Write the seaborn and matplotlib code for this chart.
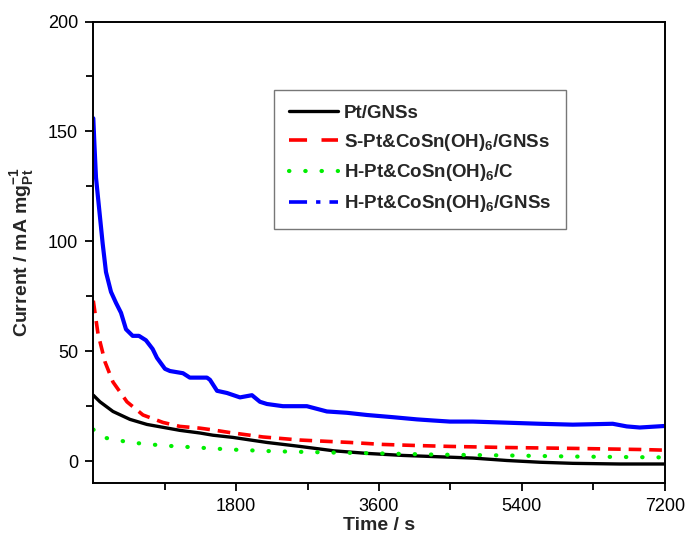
import numpy as np
import matplotlib.pyplot as plt
import seaborn as sns
import pandas as pd
from matplotlib.lines import Line2D

# values (time in s, current in mA/mg Pt)
pt_t = [0, 84, 248, 462, 676, 1092, 1344, 1507, 1759, 2188, 2603, 3031, 3459,
        3900, 4492, 4782, 5210, 5626, 6041, 6633, 7200]
pt_i = [30, 27, 22.6, 19, 16.7, 14, 12.8, 11.8, 10.8, 8.5, 6.7, 4.7, 3.5,
        2.6, 1.8, 1.4, 0.3, -0.5, -1, -1.3, -1.3]

s_t = [0, 59, 149, 248, 424, 626, 878, 1092, 1344, 1507, 1722, 2137, 2603,
       2943, 3233, 3648, 4077, 4492, 5210, 6041, 6885, 7200]
s_i = [73, 58, 45, 36, 27, 21, 17.6, 15.8, 15, 14.2, 13, 11, 9.6,
       9, 8.5, 7.6, 7.1, 6.7, 6.2, 5.8, 5.3, 5]

hc_t = [0, 122, 462, 878, 1306, 1722, 2188, 2389, 3020, 3648, 4278, 5210, 6041, 7200]
hc_i = [14.4, 10.8, 8.5, 7.1, 6.2, 5.3, 4.6, 4.4, 3.9, 3.5, 3, 2.6, 2.1, 1.7]

hg_t = [0, 13, 34, 76, 118, 160, 223, 286, 349, 412, 496, 575, 663, 748,
        802, 903, 966, 1130, 1216, 1344, 1432, 1470, 1559, 1685, 1848, 1999,
        2100, 2188, 2389, 2691, 2943, 3195, 3447, 3774, 4077, 4278, 4492,
        4782, 5210, 5626, 6041, 6545, 6721, 6885, 7200]
hg_i = [156, 145, 129, 114, 99, 86, 77, 72, 67.5, 60, 57, 57, 55, 51,
        47, 42, 41, 40, 38, 38, 38, 37, 32, 31, 29, 30,
        27, 26, 25, 25, 22.6, 22, 21, 20, 19, 18.5, 18,
        18, 17.5, 17, 16.6, 17, 15.8, 15.3, 16]

labels = ["Pt/GNSs",
          r"S-Pt&CoSn(OH)$_{\mathbf{6}}$/GNSs",
          r"H-Pt&CoSn(OH)$_{\mathbf{6}}$/C",
          r"H-Pt&CoSn(OH)$_{\mathbf{6}}$/GNSs"]
colors = ["black", "#ff0000", "#00ee00", "#0000ff"]

sns.set_theme(style="ticks")
plt.rcParams["font.family"] = ["Liberation Sans", "DejaVu Sans"]
plt.rcParams["mathtext.fontset"] = "custom"
plt.rcParams["mathtext.rm"] = "Liberation Sans"
plt.rcParams["mathtext.bf"] = "Liberation Sans:bold"

fig = plt.figure(figsize=(6.86, 5.38), dpi=100)
ax = fig.add_axes([0.136, 0.102, 0.833, 0.858])

sns.lineplot(x=pt_t, y=pt_i, ax=ax, color=colors[0], lw=2.4)
sns.lineplot(x=s_t, y=s_i, ax=ax, color=colors[1], lw=2.6,
             linestyle=(0, (3.5, 2.2)))
sns.lineplot(x=hc_t, y=hc_i, ax=ax, color=colors[2], lw=3.0,
             linestyle=(0, (0.1, 3.8)), dash_capstyle="round")
sns.lineplot(x=hg_t, y=hg_i, ax=ax, color=colors[3], lw=3.0)

ax.set_xlim(0, 7200)
ax.set_ylim(-10, 200)
ax.set_xticks([1800, 3600, 5400, 7200])
ax.set_xticks([900, 2700, 4500, 6300], minor=True)
ax.set_yticks([0, 50, 100, 150, 200])
ax.set_yticks([25, 75, 125, 175], minor=True)
ax.tick_params(which="both", direction="out", width=1.3, labelsize=13,
               colors="black", pad=5)
ax.tick_params(which="major", length=6)
ax.tick_params(which="minor", length=5)
for s in ax.spines.values():
    s.set_linewidth(1.4)
    s.set_color("black")

ax.set_xlabel("Time / s", fontsize=14, fontweight="bold", labelpad=1)
ax.set_ylabel(r"Current / mA mg$_{\mathbf{Pt}}^{\mathbf{-1}}$", fontsize=14,
              fontweight="bold", labelpad=8)

handles = [
    Line2D([], [], color=colors[0], lw=2.4),
    Line2D([], [], color=colors[1], lw=2.6, linestyle=(0, (5, 4))),
    Line2D([], [], color=colors[2], lw=3.0, linestyle=(0, (0.1, 3.8)),
           dash_capstyle="round"),
    Line2D([], [], color=colors[3], lw=2.6, linestyle=(0, (5, 2.5, 1.2, 2.5))),
]
leg = ax.legend(handles, labels, loc="upper left", bbox_to_anchor=(0.316, 0.852),
                borderaxespad=0, fancybox=False, frameon=True, handlelength=2.6,
                handletextpad=0.35, labelspacing=0.52, borderpad=0.8,
                prop={"weight": "bold", "size": 13.5})
leg.get_frame().set_edgecolor("#555555")
leg.get_frame().set_linewidth(1.0)

fig.savefig("out.png", dpi=100)
